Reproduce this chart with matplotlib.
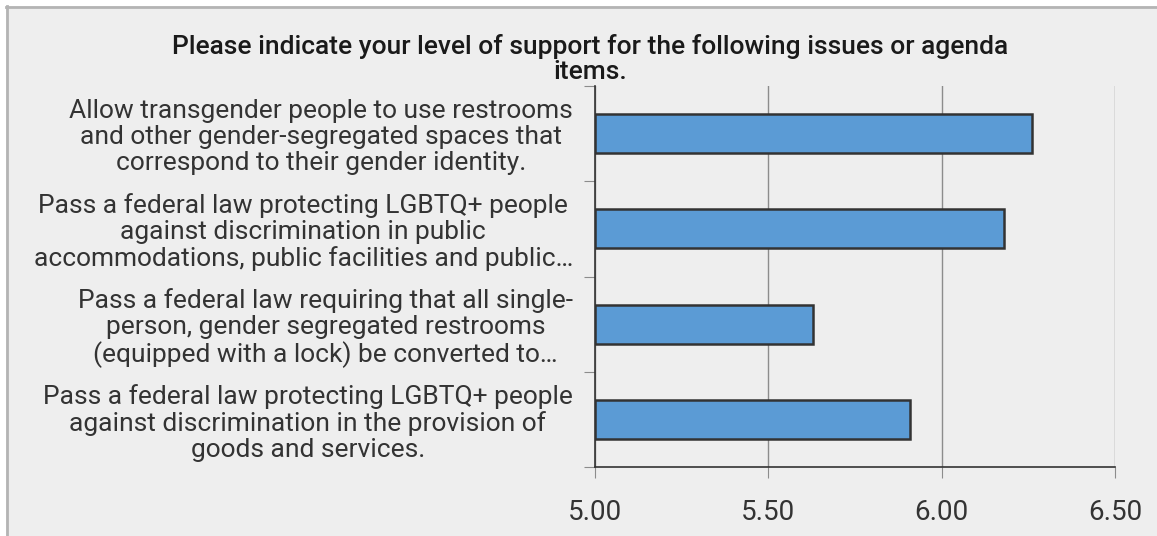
import matplotlib.pyplot as plt
from matplotlib.patches import Rectangle

# survey items, top to bottom
items = [
    "Allow transgender people to use restrooms\nand other gender-segregated spaces that\ncorrespond to their gender identity.",
    "Pass a federal law protecting LGBTQ+ people\nagainst discrimination in public\naccommodations, public facilities and public\u2026",
    "Pass a federal law requiring that all single-\nperson, gender segregated restrooms\n(equipped with a lock) be converted to\u2026",
    "Pass a federal law protecting LGBTQ+ people\nagainst discrimination in the provision of\ngoods and services.",
]
scores = [6.26, 6.18, 5.63, 5.91]
xticks = [5.00, 5.50, 6.00, 6.50]
title = "Please indicate your level of support for the following issues or agenda\nitems."

plt.rcParams['font.family'] = ['Roboto', 'DejaVu Sans']

bg = '#eeeeee'
fig = plt.figure(figsize=(11.57, 5.36), dpi=100, facecolor='white')
# panel background with top/left frame
fig.patches.append(Rectangle((6 / 1157, 0), 1, 1 - 6 / 536, transform=fig.transFigure,
                             facecolor=bg, edgecolor='none', zorder=-5))
fig.lines.append(plt.Line2D([6.5 / 1157, 6.5 / 1157], [0, 1 - 6 / 536], transform=fig.transFigure,
                            color='#b4b4b4', lw=2, zorder=-4))
fig.lines.append(plt.Line2D([6 / 1157, 1], [1 - 6.5 / 536, 1 - 6.5 / 536], transform=fig.transFigure,
                            color='#b4b4b4', lw=2, zorder=-4))

ax = fig.add_axes([595 / 1157, 69 / 536, (1115 - 595) / 1157, (467 - 86) / 536])
ax.set_facecolor(bg)

ypos = list(range(len(items)))[::-1]
ax.barh(ypos, [s - 5.0 for s in scores], left=5.0, height=0.41,
        color='#5b9bd5', edgecolor='#333333', linewidth=1.8, zorder=3)

ax.set_xlim(5.0, 6.5)
ax.set_ylim(-0.5, len(items) - 0.5)
ax.set_xticks(xticks)
ax.set_xticklabels([f"{v:.2f}" for v in xticks], fontsize=20, color='#333333')
ax.xaxis.grid(True, color='#8c8c8c', linewidth=1, zorder=0)
ax.tick_params(axis='x', length=8, color='#8c8c8c', pad=15)

# category boundary ticks on the y axis, labels at centres
ax.set_yticks([y - 0.5 for y in range(len(items) + 1)])
ax.set_yticklabels([])
ax.set_yticks(ypos, minor=True)
ax.set_yticklabels(items, minor=True, fontsize=19, color='#333333',
                   multialignment='center', linespacing=1.1)
ax.tick_params(axis='y', which='major', length=8, color='#8c8c8c')
ax.tick_params(axis='y', which='minor', length=0, pad=16)

for side in ['top', 'right']:
    ax.spines[side].set_visible(False)
for side in ['left', 'bottom']:
    ax.spines[side].set_color('#333333')
    ax.spines[side].set_linewidth(1.2)

fig.text(590 / 1157, 1 - 59 / 536, title, ha='center', va='center', fontsize=19,
         fontweight='medium', color='#1a1a1a', linespacing=1.1)

fig.savefig('out.png', dpi=100, facecolor='white')
